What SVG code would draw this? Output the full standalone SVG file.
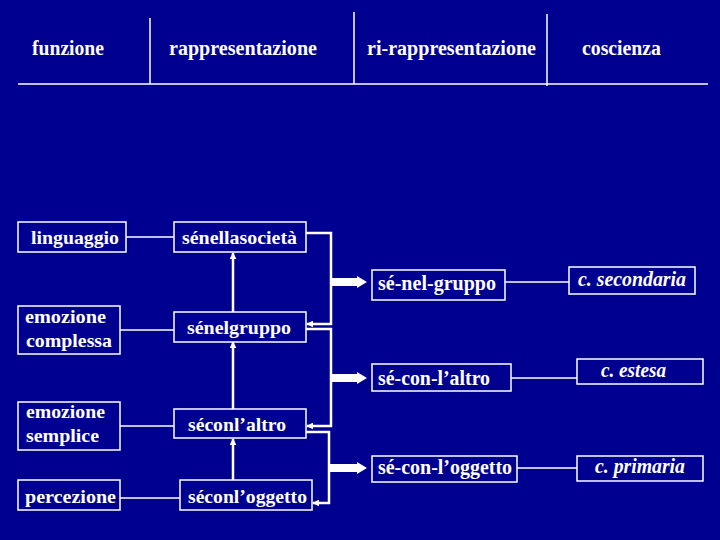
<svg xmlns="http://www.w3.org/2000/svg" width="720" height="540" viewBox="0 0 720 540">
<defs>
<style>
.bg{fill:#000090}
.box{fill:#000090;stroke:#ffffff;stroke-width:1.5}
.t{font-family:'Liberation Serif','Times New Roman',serif;font-weight:bold;fill:#ffffff;font-size:19px}
.r{font-size:20px}
.h{font-family:'Liberation Serif','Times New Roman',serif;font-weight:bold;fill:#ffffff;font-size:20px}
.i{font-style:italic}
.ln{stroke:#ffffff;stroke-width:1.5;fill:none}
.cn{stroke:#ffffff;stroke-width:2.5;fill:none}
.ah{fill:#ffffff}
</style>
<marker id="arr" viewBox="0 0 10 10" refX="9" refY="5" markerWidth="7" markerHeight="7" markerUnits="userSpaceOnUse" orient="auto">
<path d="M0,0 L10,5 L0,10 Z" fill="#ffffff"/>
</marker>
</defs>
<rect class="bg" x="0" y="0" width="720" height="540"/>

<g id="header">
<line class="ln" x1="18" y1="84" x2="708" y2="84"/>
<line class="ln" x1="150" y1="18" x2="150" y2="84"/>
<line class="ln" x1="354" y1="12" x2="354" y2="84"/>
<line class="ln" x1="547" y1="14" x2="547" y2="86"/>
<text class="h" x="32" y="55" textLength="72" lengthAdjust="spacingAndGlyphs">funzione</text>
<text class="h" x="169" y="55" textLength="148" lengthAdjust="spacingAndGlyphs">rappresentazione</text>
<text class="h" x="367" y="55" textLength="169" lengthAdjust="spacingAndGlyphs">ri-rappresentazione</text>
<text class="h" x="582" y="55" textLength="79" lengthAdjust="spacingAndGlyphs">coscienza</text>
</g>

<g id="connectors">
<line class="ln" x1="126" y1="237" x2="174" y2="237"/>
<line class="ln" x1="120" y1="330" x2="174" y2="330"/>
<line class="ln" x1="120" y1="426" x2="174" y2="426"/>
<line class="ln" x1="120" y1="498" x2="180" y2="498"/>
<line class="cn" x1="233" y1="312" x2="233" y2="253" marker-end="url(#arr)"/>
<line class="cn" x1="233" y1="409" x2="233" y2="342" marker-end="url(#arr)"/>
<line class="cn" x1="233" y1="480" x2="233" y2="439" marker-end="url(#arr)"/>
<path class="cn" d="M306,233 H331 V324 H307" marker-end="url(#arr)"/>
<path class="cn" d="M306,329 H331 V426 H307" marker-end="url(#arr)"/>
<path class="cn" d="M306,432 H329 V503 H313" marker-end="url(#arr)"/>
<polygon class="ah" points="331,278 357,278 357,276 367,282 357,288 357,286 331,286"/>
<polygon class="ah" points="331,374 357,374 357,372 367,378 357,384 357,382 331,382"/>
<polygon class="ah" points="329,464 357,464 357,462 367,468 357,474 357,472 329,472"/>
<line class="ln" x1="505" y1="282" x2="569" y2="282"/>
<line class="ln" x1="511" y1="378" x2="577" y2="378"/>
<line class="ln" x1="517" y1="468" x2="577" y2="468"/>
</g>

<g id="linguaggio">
<rect class="box" x="18" y="222" width="108" height="30"/>
<text class="t" x="31" y="244" textLength="88" lengthAdjust="spacingAndGlyphs">linguaggio</text>
</g>
<g id="senellasocieta">
<rect class="box" x="174" y="222" width="132" height="30"/>
<text class="t" x="182" y="244" textLength="115" lengthAdjust="spacingAndGlyphs">sénellasocietà</text>
</g>
<g id="emozione-complessa">
<rect class="box" x="18" y="306" width="102" height="48"/>
<text class="t" x="25" y="323" textLength="81" lengthAdjust="spacingAndGlyphs">emozione</text>
<text class="t" x="26" y="347" textLength="86" lengthAdjust="spacingAndGlyphs">complessa</text>
</g>
<g id="senelgruppo">
<rect class="box" x="174" y="312" width="132" height="30"/>
<text class="t" x="187" y="334" textLength="104" lengthAdjust="spacingAndGlyphs">sénelgruppo</text>
</g>
<g id="emozione-semplice">
<rect class="box" x="18" y="402" width="102" height="48"/>
<text class="t" x="26" y="418" textLength="79" lengthAdjust="spacingAndGlyphs">emozione</text>
<text class="t" x="26" y="442" textLength="73" lengthAdjust="spacingAndGlyphs">semplice</text>
</g>
<g id="seconlaltro">
<rect class="box" x="174" y="409" width="132" height="29"/>
<text class="t" x="188" y="431" textLength="98" lengthAdjust="spacingAndGlyphs">séconl’altro</text>
</g>
<g id="percezione">
<rect class="box" x="18" y="480" width="102" height="30"/>
<text class="t" x="25" y="503" textLength="91" lengthAdjust="spacingAndGlyphs">percezione</text>
</g>
<g id="seconloggetto">
<rect class="box" x="180" y="480" width="132" height="30"/>
<text class="t" x="188" y="503" textLength="119" lengthAdjust="spacingAndGlyphs">séconl’oggetto</text>
</g>
<g id="se-nel-gruppo">
<rect class="box" x="372" y="270" width="133" height="30"/>
<text class="t r" x="378" y="290" textLength="118" lengthAdjust="spacingAndGlyphs">sé-nel-gruppo</text>
</g>
<g id="c-secondaria">
<rect class="box" x="569" y="267" width="126" height="27"/>
<text class="t r i" x="578" y="286" textLength="108" lengthAdjust="spacingAndGlyphs">c. secondaria</text>
</g>
<g id="se-con-laltro">
<rect class="box" x="372" y="364" width="139" height="27"/>
<text class="t r" x="378" y="385" textLength="112" lengthAdjust="spacingAndGlyphs">sé-con-l’altro</text>
</g>
<g id="c-estesa">
<rect class="box" x="577" y="359" width="126" height="25"/>
<text class="t r i" x="601" y="377" textLength="65" lengthAdjust="spacingAndGlyphs">c. estesa</text>
</g>
<g id="se-con-loggetto">
<rect class="box" x="372" y="456" width="145" height="26"/>
<text class="t r" x="378" y="474" textLength="134" lengthAdjust="spacingAndGlyphs">sé-con-l’oggetto</text>
</g>
<g id="c-primaria">
<rect class="box" x="577" y="456" width="126" height="25"/>
<text class="t r i" x="595" y="473" textLength="90" lengthAdjust="spacingAndGlyphs">c. primaria</text>
</g>
</svg>
